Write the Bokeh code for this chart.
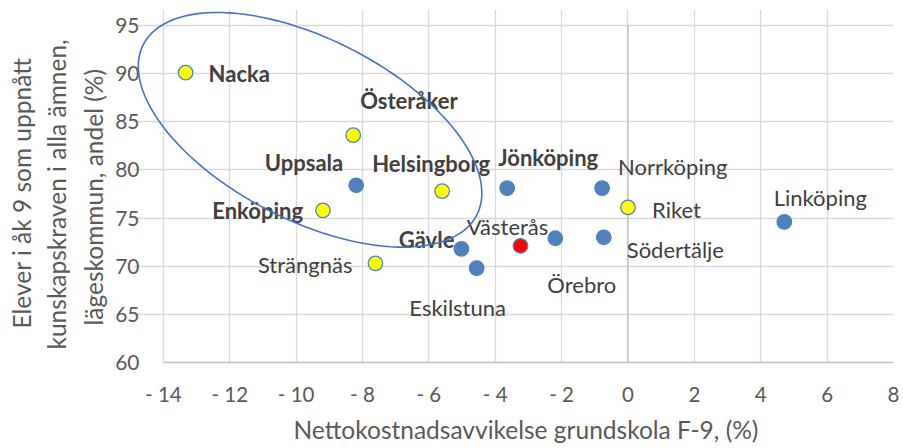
import math
from bokeh.plotting import figure
from bokeh.models import ColumnDataSource, FixedTicker, Range1d, PolyAnnotation, Title
from bokeh.core.properties import value
from bokeh.embed import file_html
from bokeh.resources import INLINE

# ---- data ----
names = ["Nacka", "Österåker", "Uppsala", "Helsingborg", "Enköping", "Gävle",
         "Jönköping", "Norrköping", "Riket", "Linköping", "Södertälje", "Örebro",
         "Västerås", "Eskilstuna", "Strängnäs"]
cost_dev = [-13.33, -8.28, -8.19, -5.60, -9.19, -5.02,
            -3.64, -0.78, 0.0, 4.71, -0.73, -2.19,
            -3.24, -4.56, -7.61]
pass_rate = [90.1, 83.6, 78.4, 77.8, 75.8, 71.8,
             78.1, 78.1, 76.1, 74.6, 73.0, 72.9,
             72.1, 69.8, 70.3]
group = ["urval", "urval", "kommun", "urval", "urval", "kommun",
         "kommun", "kommun", "urval", "kommun", "kommun", "kommun",
         "hem", "kommun", "urval"]
bold = [True, True, True, True, True, True,
        True, False, False, False, False, False,
        False, False, False]

x_ticks = [-14, -12, -10, -8, -6, -4, -2, 0, 2, 4, 6, 8]
x_tick_labels = ["- 14", "- 12", "- 10", "- 8", "- 6", "- 4", "- 2", "0", "2", "4", "6", "8"]
y_ticks = [60, 65, 70, 75, 80, 85, 90, 95]
x_title = "Nettokostnadsavvikelse grundskola F-9, (%)"
y_title_lines = ["Elever i åk 9 som uppnått", "kunskapskraven i alla ämnen,", "lägeskommun, andel (%)"]

# axis extents of the chart and the (larger) drawing area that holds the ellipse
X0, X1, Y0, Y1 = -14, 8, 60, 95
VX0, VY1 = -14.9, 96.65

# highlight ellipse (centre in data units, semi-axes in px, tilt)
ell_center = (-9.58, 84.16)
ell_semi_px = (187.5, 91.0)
ell_tilt = -0.476

# ---- styles ----
fill_map = {"kommun": "#4F81BD", "urval": "#FFFF00", "hem": "#FF0000"}
line_map = {"kommun": "#4F81BD", "urval": "#4F81BD", "hem": "#4F81BD"}
label_dx = [23, 7, -13, -11, -20, -7, 41, 16, 24, 36, 23, -8, -13, -19, -23]
label_dy = [1, -35, -23, -28, 0, -9, -31, -22, 2, -24, 12, 46, -19, 39, 1]
label_align = ["left", "left", "right", "center", "right", "right", "center", "left",
               "left", "center", "left", "left", "center", "center", "right"]
# title placement (px from the chart-area start) and stacking gaps
x_title_offset = 160
y_title_offsets = [34, 13, 37]
y_title_standoffs = [4, 4, 9]

FONT = "Lato"
W, H = 903, 448
L, R, T, B = 133, 10, 9, 84
px_x = (W - L - R) / (X1 - VX0)
px_y = (H - T - B) / (VY1 - Y0)

src = ColumnDataSource(dict(
    x=cost_dev, y=pass_rate, name=names,
    fill=[fill_map[g] for g in group],
    line=[line_map[g] for g in group],
    style=["bold" if b else "normal" for b in bold],
    dx=label_dx, dy=label_dy, align=label_align,
))

p = figure(width=W, height=H, output_backend="svg", toolbar_location=None,
           x_range=Range1d(VX0, X1), y_range=Range1d(Y0, VY1),
           min_border_left=L, min_border_right=R, min_border_top=T, min_border_bottom=B)
p.outline_line_color = None
p.background_fill_color = "white"
p.border_fill_color = "white"

# grid
for g in (p.xgrid, p.ygrid):
    g.grid_line_color = "#D9D9D9"
    g.grid_line_width = 1.3
p.xgrid.ticker = FixedTicker(ticks=x_ticks)
p.ygrid.ticker = FixedTicker(ticks=y_ticks)
p.xgrid.bounds = (Y0, Y1)
p.ygrid.bounds = (X0, X1)

# axes
p.xaxis.ticker = FixedTicker(ticks=x_ticks)
p.xaxis.major_label_overrides = {t: l for t, l in zip(x_ticks, x_tick_labels)}
p.xaxis.bounds = (X0, X1)
p.yaxis.ticker = FixedTicker(ticks=y_ticks)
p.yaxis.bounds = (Y0, Y1)
for ax in (p.xaxis, p.yaxis):
    ax.major_tick_in = 0
    ax.major_tick_out = 0
    ax.minor_tick_in = 0
    ax.minor_tick_out = 0
    ax.major_label_text_font = FONT
    ax.major_label_text_color = "#595959"
p.xaxis.major_label_text_font_size = "20.5px"
p.yaxis.major_label_text_font_size = "21px"
p.xaxis.axis_line_color = "#BFBFBF"
p.xaxis.axis_line_width = 1.3
p.yaxis.axis_line_color = None
p.xaxis.major_label_standoff = 19
p.yaxis.major_label_standoff = -6

# axis titles (as titles so they can be placed on the real chart area)
p.add_layout(Title(text=x_title, align="left", offset=x_title_offset, standoff=9,
                   text_font=FONT, text_font_size="24.5px", text_font_style="normal",
                   text_color="#595959"), "below")
for line, off, so in reversed(list(zip(y_title_lines, y_title_offsets, y_title_standoffs))):
    p.add_layout(Title(text=line, align="left", offset=off, standoff=so,
                       text_font=FONT, text_font_size="24.5px", text_font_style="normal",
                       text_color="#595959"), "left")

# vertical axis line at x = 0
p.segment(x0=[0], y0=[Y0], x1=[0], y1=[Y1], line_color="#BFBFBF", line_width=1.3)

# points
p.scatter(x="x", y="y", source=src, size=14.5, fill_color="fill", line_color="line", line_width=1.3)

# labels
p.text(x="x", y="y", text="name", source=src, x_offset="dx", y_offset="dy",
       text_align="align", text_baseline="middle", text_font=value(FONT),
       text_font_size="22px", text_font_style="style", text_color="#404040")

# ellipse highlight
a, b = ell_semi_px
ex, ey = [], []
for i in range(121):
    t = 2 * math.pi * i / 120
    dxp = a * math.cos(t) * math.cos(ell_tilt) - b * math.sin(t) * math.sin(ell_tilt)
    dyp = a * math.cos(t) * math.sin(ell_tilt) + b * math.sin(t) * math.cos(ell_tilt)
    ex.append(ell_center[0] + dxp / px_x)
    ey.append(ell_center[1] + dyp / px_y)
p.add_layout(PolyAnnotation(xs=ex, ys=ey, fill_alpha=0, fill_color=None,
                            line_color="#4472C4", line_alpha=1.0, line_width=1.6))

open("out.html", "w").write(file_html(p, INLINE))
